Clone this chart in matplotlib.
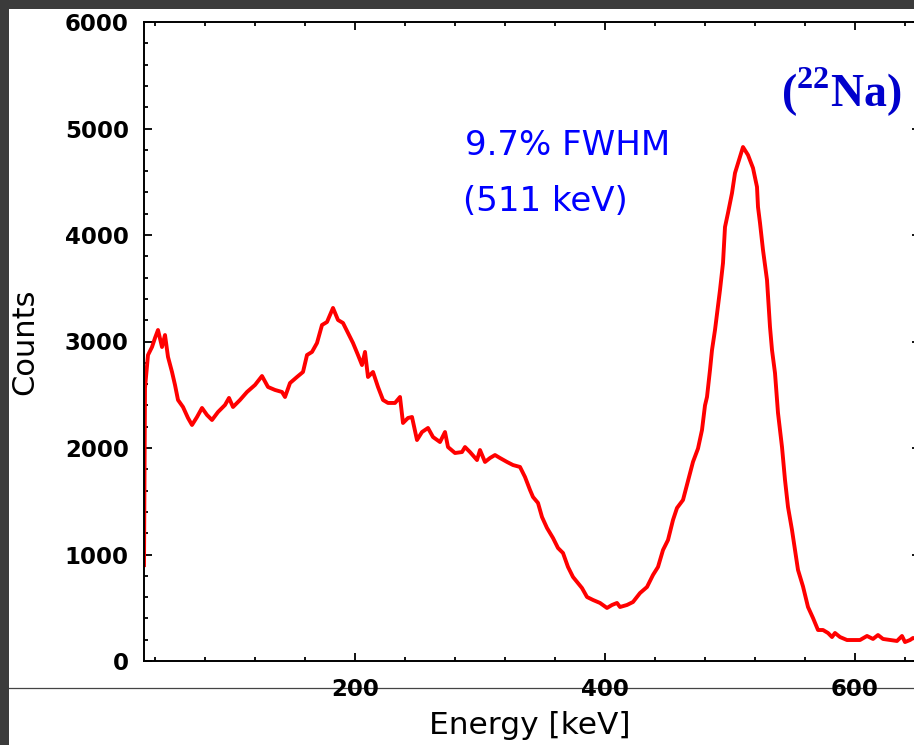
import numpy as np
import matplotlib
matplotlib.use("Agg")
import matplotlib.pyplot as plt
from matplotlib.patches import Rectangle
from matplotlib.lines import Line2D
from matplotlib.ticker import MultipleLocator

# spectrum (energy in keV, counts)
energy_kev = [31.2, 31.6, 32.0, 34.4, 37.6, 40.0, 42.4, 45.6, 48.0, 50.4,
              53.6, 56.0, 58.4, 62.4, 66.4, 69.6, 73.6, 77.6, 81.6, 85.6,
              90.4, 96.0, 99.2, 102.4, 108.0, 113.6, 120.0, 125.6, 130.4, 136.0,
              141.6, 144.0, 148.0, 153.6, 158.4, 161.6, 165.6, 169.6, 173.6, 177.6,
              182.4, 186.4, 190.4, 194.4, 198.4, 202.4, 205.6, 208.0, 210.4, 214.4,
              218.4, 222.4, 226.4, 232.0, 236.0, 238.4, 242.4, 245.6, 249.6, 253.6,
              258.4, 262.4, 268.0, 272.0, 274.4, 280.0, 285.6, 288.0, 292.0, 297.6,
              300.0, 304.0, 308.0, 312.0, 316.0, 321.6, 326.4, 332.0, 336.0, 340.0,
              342.4, 346.4, 349.6, 353.6, 358.4, 362.4, 366.4, 370.4, 374.4, 378.4,
              381.6, 385.6, 390.4, 396.0, 401.6, 405.6, 409.6, 412.0, 417.6, 422.4,
              428.0, 433.6, 438.4, 442.4, 446.4, 450.4, 454.4, 457.6, 462.4, 466.4,
              470.4, 474.4, 477.6, 480.0, 481.6, 484.0, 485.6, 488.0, 492.0, 494.4,
              496.0, 498.4, 501.6, 504.0, 508.0, 510.4, 514.4, 518.4, 521.6, 522.4,
              524.0, 526.4, 529.6, 532.0, 533.6, 536.0, 538.4, 541.6, 544.0, 546.4,
              549.6, 552.0, 554.4, 558.4, 562.4, 566.4, 570.4, 574.4, 578.4, 581.6,
              584.0, 588.0, 593.6, 598.4, 604.0, 609.6, 614.4, 618.4, 622.4, 628.0,
              633.6, 637.6, 640.0, 644.0, 646.4, 652.0]
counts = [900, 1700, 2563, 2873, 2948, 3033, 3108, 2948, 3061, 2855,
          2714, 2592, 2451, 2385, 2282, 2216, 2291, 2376, 2310, 2263,
          2338, 2404, 2470, 2385, 2451, 2526, 2592, 2676, 2573, 2545,
          2526, 2479, 2610, 2667, 2714, 2873, 2902, 2986, 3155, 3183,
          3315, 3202, 3174, 3080, 2986, 2873, 2779, 2902, 2667, 2714,
          2573, 2451, 2423, 2423, 2479, 2235, 2282, 2291, 2075, 2150,
          2188, 2103, 2056, 2150, 2009, 1953, 1962, 2009, 1962, 1887,
          1981, 1869, 1906, 1934, 1906, 1869, 1840, 1822, 1728, 1606,
          1540, 1484, 1352, 1249, 1155, 1061, 1014, 883, 789, 732,
          685, 601, 573, 545, 498, 526, 545, 507, 526, 554,
          638, 695, 808, 883, 1042, 1136, 1324, 1437, 1512, 1690,
          1870, 1995, 2169, 2400, 2479, 2733, 2920, 3108, 3484, 3737,
          4075, 4207, 4394, 4582, 4733, 4826, 4751, 4629, 4451, 4263,
          4113, 3859, 3578, 3136, 2920, 2704, 2329, 2009, 1700, 1446,
          1230, 1042, 855, 700, 507, 404, 291, 291, 263, 225,
          263, 225, 197, 197, 197, 235, 207, 244, 207, 197,
          188, 235, 178, 197, 216, 200]

y_ticks = [0, 1000, 2000, 3000, 4000, 5000, 6000]
x_ticks = [200, 400, 600]

plt.rcParams['mathtext.fontset'] = 'custom'
plt.rcParams['mathtext.rm'] = 'Liberation Serif:bold'
plt.rcParams['mathtext.bf'] = 'Liberation Serif:bold'

W, H = 914, 745
fig = plt.figure(figsize=(W / 100, H / 100), dpi=100)
fig.patch.set_facecolor('white')

# dark frame strips at top and left, and the stray rule near the bottom
fig.add_artist(Rectangle((0, 1 - 9 / H), 1, 9 / H, transform=fig.transFigure,
                         facecolor='#3b3b3b', edgecolor='none', zorder=0))
fig.add_artist(Rectangle((0, 0), 9 / W, 1, transform=fig.transFigure,
                         facecolor='#3b3b3b', edgecolor='none', zorder=0))
fig.add_artist(Line2D([9 / W, 1], [1 - 688 / H] * 2, transform=fig.transFigure,
                      color='#444444', lw=0.9, zorder=0))

ax_w, ax_h = 920 - 144, 661 - 22
ax = fig.add_axes([144 / W, 1 - 661 / H, ax_w / W, ax_h / H])
ax.set_facecolor('none')
ax.plot(energy_kev, counts, color='#ff0000', lw=2.8, solid_joinstyle='round')

ax.set_xlim(31.2, 652)
ax.set_ylim(0, 6000)
ax.set_xticks(x_ticks)
ax.set_yticks(y_ticks)
ax.xaxis.set_minor_locator(MultipleLocator(40))
ax.yaxis.set_minor_locator(MultipleLocator(200))

for s in ax.spines.values():
    s.set_linewidth(1.4)
ax.tick_params(which='both', direction='in', top=True, right=True, width=1.3)
ax.tick_params(which='major', length=6)
ax.tick_params(which='minor', length=3)
ax.tick_params(axis='y', pad=11, labelsize=16.5)
ax.tick_params(axis='x', pad=12, labelsize=16.5)
for lab in ax.get_xticklabels() + ax.get_yticklabels():
    lab.set_fontweight('bold')

ax.set_xlabel('Energy [keV]', fontsize=22.5)
ax.set_ylabel('Counts', fontsize=22)
ax.xaxis.set_label_coords((530 - 144) / ax_w, -(711 - 661) / ax_h)
ax.yaxis.set_label_coords((39 - 144) / ax_w, 0.5)

fig.text(465 / W, 1 - 155 / H, '9.7% FWHM', color='#0000ff', fontsize=24.5,
         ha='left', va='baseline')
fig.text(463 / W, 1 - 211 / H, '(511 keV)', color='#0000ff', fontsize=24.5,
         ha='left', va='baseline')
fig.text(781 / W, 1 - 107 / H, '($^{22}$Na)', color='#0000cc', fontsize=33,
         family='Liberation Serif', fontweight='bold', ha='left', va='baseline')

fig.savefig('out.png', dpi=100)
